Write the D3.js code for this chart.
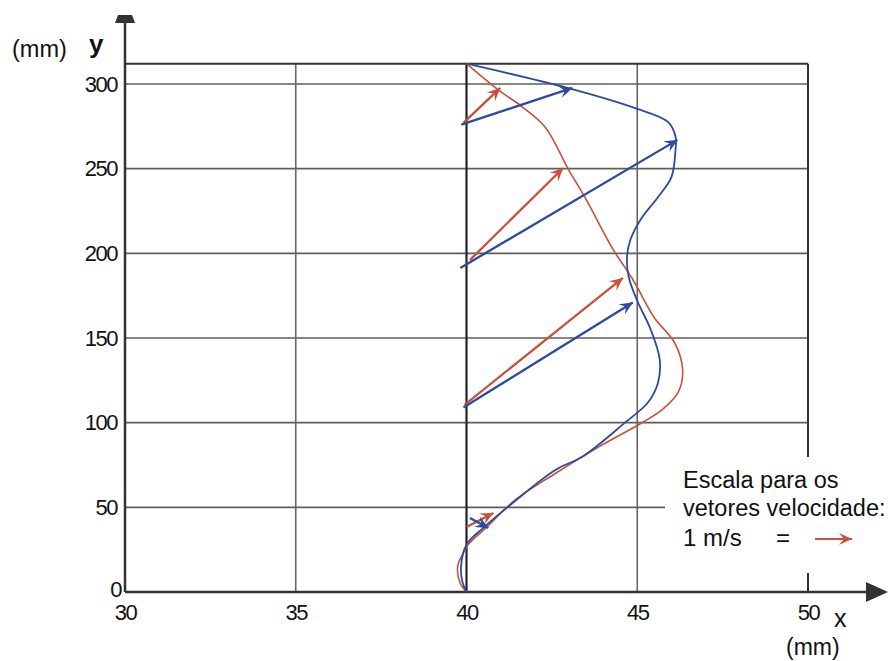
<!DOCTYPE html>
<html>
<head>
<meta charset="utf-8">
<script src="https://cdn.jsdelivr.net/npm/d3@7"></script>
<style>
  body { margin: 0; background: #fff; }
  svg { display: block; }
  text { font-family: "Liberation Sans", Arial, sans-serif; fill: #111; }
</style>
</head>
<body>
<svg id="chart" width="895" height="661"></svg>
<script>
// tick values
const xTicks = [30, 35, 40, 45, 50];
const yTicks = [0, 50, 100, 150, 200, 250, 300];
const yTop = 312;

// velocity profiles, [x mm, y mm], bottom to top
const redCurve = [
  [40, 0], [39.82, 5], [39.74, 15], [39.9, 23], [40.05, 28], [40.6, 38.5], [41.4, 54],
  [42.6, 70], [43.9, 86], [45.1, 99.5], [45.75, 108], [46.2, 118], [46.33, 131],
  [46.1, 147], [45.5, 162], [44.93, 182.5], [44.63, 192], [44.3, 202], [43.47, 233],
  [43.0, 249], [42.3, 274.6], [41.6, 287], [40.93, 296.5], [40, 312]
];
const blueCurve = [
  [40, 0], [39.88, 6], [39.84, 15], [40.0, 28], [40.5, 38], [41.2, 50], [42.6, 72],
  [43.4, 80], [44.64, 100], [45.3, 111.6], [45.6, 123], [45.66, 137], [45.4, 154.7],
  [45.0, 172], [44.75, 186], [44.7, 198], [44.8, 208], [45.1, 220], [45.6, 233],
  [46.0, 245], [46.12, 261], [46.12, 269], [45.9, 277.6], [44.9, 286], [42.9, 298], [40, 312]
];

// velocity vectors, [x0, y0, x1, y1]
const redVectors = [
  [39.91, 277, 40.99, 297.7],
  [40.1, 196, 42.83, 250.4],
  [39.94, 110.5, 44.58, 185.5],
  [40.0, 38.4, 40.79, 46.7]
];
const blueVectors = [
  [39.85, 276, 43.1, 297.7],
  [39.82, 191.4, 46.18, 267],
  [39.91, 109, 44.87, 171],
  [40.1, 43.7, 40.64, 37.8]
];

const red = '#c9503c';
const blue = '#2c4b9e';

const svg = d3.select('#chart');

const x = d3.scaleLinear().domain([30, 50]).range([125, 808]);
const y = d3.scaleLinear().domain([0, 300]).range([592, 84]);

// arrow markers
const defs = svg.append('defs');
[['red', red], ['blue', blue]].forEach(([id, c]) => {
  defs.append('marker')
      .attr('id', 'head-' + id)
      .attr('viewBox', '-14 -7 16 14')
      .attr('markerWidth', 16).attr('markerHeight', 14)
      .attr('markerUnits', 'userSpaceOnUse')
      .attr('refX', 0).attr('refY', 0)
      .attr('orient', 'auto')
    .append('path')
      .attr('d', 'M0,0 L-13,-6 L-8,0 L-13,6 Z')
      .attr('fill', c);
});

// horizontal grid
svg.append('g').selectAll('line')
    .data(yTicks.filter(d => d > 0))
  .enter().append('line')
    .attr('x1', x(30))
    .attr('x2', d => d === 50 ? 665 : x(50))
    .attr('y1', d => y(d)).attr('y2', d => y(d))
    .attr('stroke', '#5e5e5e').attr('stroke-width', 1.6);

// vertical grid
svg.append('g').selectAll('line')
    .data([35, 45])
  .enter().append('line')
    .attr('x1', d => x(d)).attr('x2', d => x(d))
    .attr('y1', y(0)).attr('y2', y(yTop))
    .attr('stroke', '#666').attr('stroke-width', 1.6);

svg.append('line')
    .attr('x1', x(40)).attr('x2', x(40))
    .attr('y1', y(0)).attr('y2', y(yTop))
    .attr('stroke', '#222').attr('stroke-width', 2.2);

// frame: top border and right edge (interrupted by the legend)
svg.append('line')
    .attr('x1', x(30)).attr('x2', x(50))
    .attr('y1', y(yTop)).attr('y2', y(yTop))
    .attr('stroke', '#333').attr('stroke-width', 2);
svg.append('line')
    .attr('x1', x(50)).attr('x2', x(50))
    .attr('y1', y(yTop)).attr('y2', 457)
    .attr('stroke', '#333').attr('stroke-width', 2);
svg.append('line')
    .attr('x1', x(50)).attr('x2', x(50))
    .attr('y1', 573).attr('y2', y(0))
    .attr('stroke', '#333').attr('stroke-width', 2);

// axes with arrows
svg.append('line')
    .attr('x1', x(30)).attr('x2', x(30))
    .attr('y1', y(0)).attr('y2', 20)
    .attr('stroke', '#333').attr('stroke-width', 2.5);
svg.append('path')
    .attr('d', 'M118,15 L132,15 L135,23 L115,23 Z')
    .attr('fill', '#333');
svg.append('line')
    .attr('x1', x(30)).attr('x2', 870)
    .attr('y1', y(0)).attr('y2', y(0))
    .attr('stroke', '#333').attr('stroke-width', 2.5);
svg.append('path')
    .attr('d', 'M866,582 L888,592 L866,602 Z')
    .attr('fill', '#333');

// tick labels
const yAxis = svg.append('g')
    .attr('transform', 'translate(' + x(30) + ',0)')
    .call(d3.axisLeft(y).tickValues(yTicks).tickSize(0).tickPadding(8));
const xAxis = svg.append('g')
    .attr('transform', 'translate(0,' + y(0) + ')')
    .call(d3.axisBottom(x).tickValues(xTicks).tickSize(0).tickPadding(12).tickFormat(d3.format('d')));
[yAxis, xAxis].forEach(a => {
  a.select('.domain').remove();
  a.selectAll('text')
      .attr('font-size', 22)
      .attr('letter-spacing', '-1.5px')
      .attr('fill', '#111')
      .attr('font-family', '"Liberation Sans", Arial, sans-serif');
});
yAxis.selectAll('.tick').filter(d => d === 0).select('text').attr('x', -4).attr('dy', '0.2em');

// profiles
const line = d3.line()
    .x(d => x(d[0]))
    .y(d => y(d[1]))
    .curve(d3.curveCatmullRom.alpha(0.5));

svg.append('path')
    .datum(redCurve)
    .attr('d', line)
    .attr('fill', 'none')
    .attr('stroke', red).attr('stroke-width', 1.6);
svg.append('path')
    .datum(blueCurve)
    .attr('d', line)
    .attr('fill', 'none')
    .attr('stroke', blue).attr('stroke-width', 1.8);

// vectors
function drawVectors(data, color, id) {
  svg.append('g').selectAll('line')
      .data(data)
    .enter().append('line')
      .attr('x1', d => x(d[0])).attr('y1', d => y(d[1]))
      .attr('x2', d => x(d[2])).attr('y2', d => y(d[3]))
      .attr('stroke', color).attr('stroke-width', 2.3)
      .attr('marker-end', 'url(#head-' + id + ')');
}
drawVectors(redVectors, red, 'red');
drawVectors(blueVectors, blue, 'blue');

// axis titles
svg.append('text').attr('x', 12).attr('y', 57).attr('font-size', 23.5).text('(mm)');
svg.append('text').attr('x', 89).attr('y', 53).attr('font-size', 26).attr('font-weight', 'bold').text('y');
svg.append('text').attr('x', 834).attr('y', 627).attr('font-size', 25).text('x');
svg.append('text').attr('x', 786).attr('y', 655).attr('font-size', 23).text('(mm)');

// scale legend
const legend = svg.append('g').attr('font-size', 23.5);
legend.append('text').attr('x', 683).attr('y', 488).text('Escala para os');
legend.append('text').attr('x', 683).attr('y', 516).text('vetores velocidade:');
legend.append('text').attr('x', 683).attr('y', 546).attr('font-size', 24).text('1 m/s');
legend.append('text').attr('x', 776).attr('y', 546).attr('font-size', 24).text('=');
legend.append('line')
    .attr('x1', 815).attr('x2', 852)
    .attr('y1', 539).attr('y2', 539)
    .attr('stroke', red).attr('stroke-width', 2)
    .attr('marker-end', 'url(#head-red)');
</script>
</body>
</html>
